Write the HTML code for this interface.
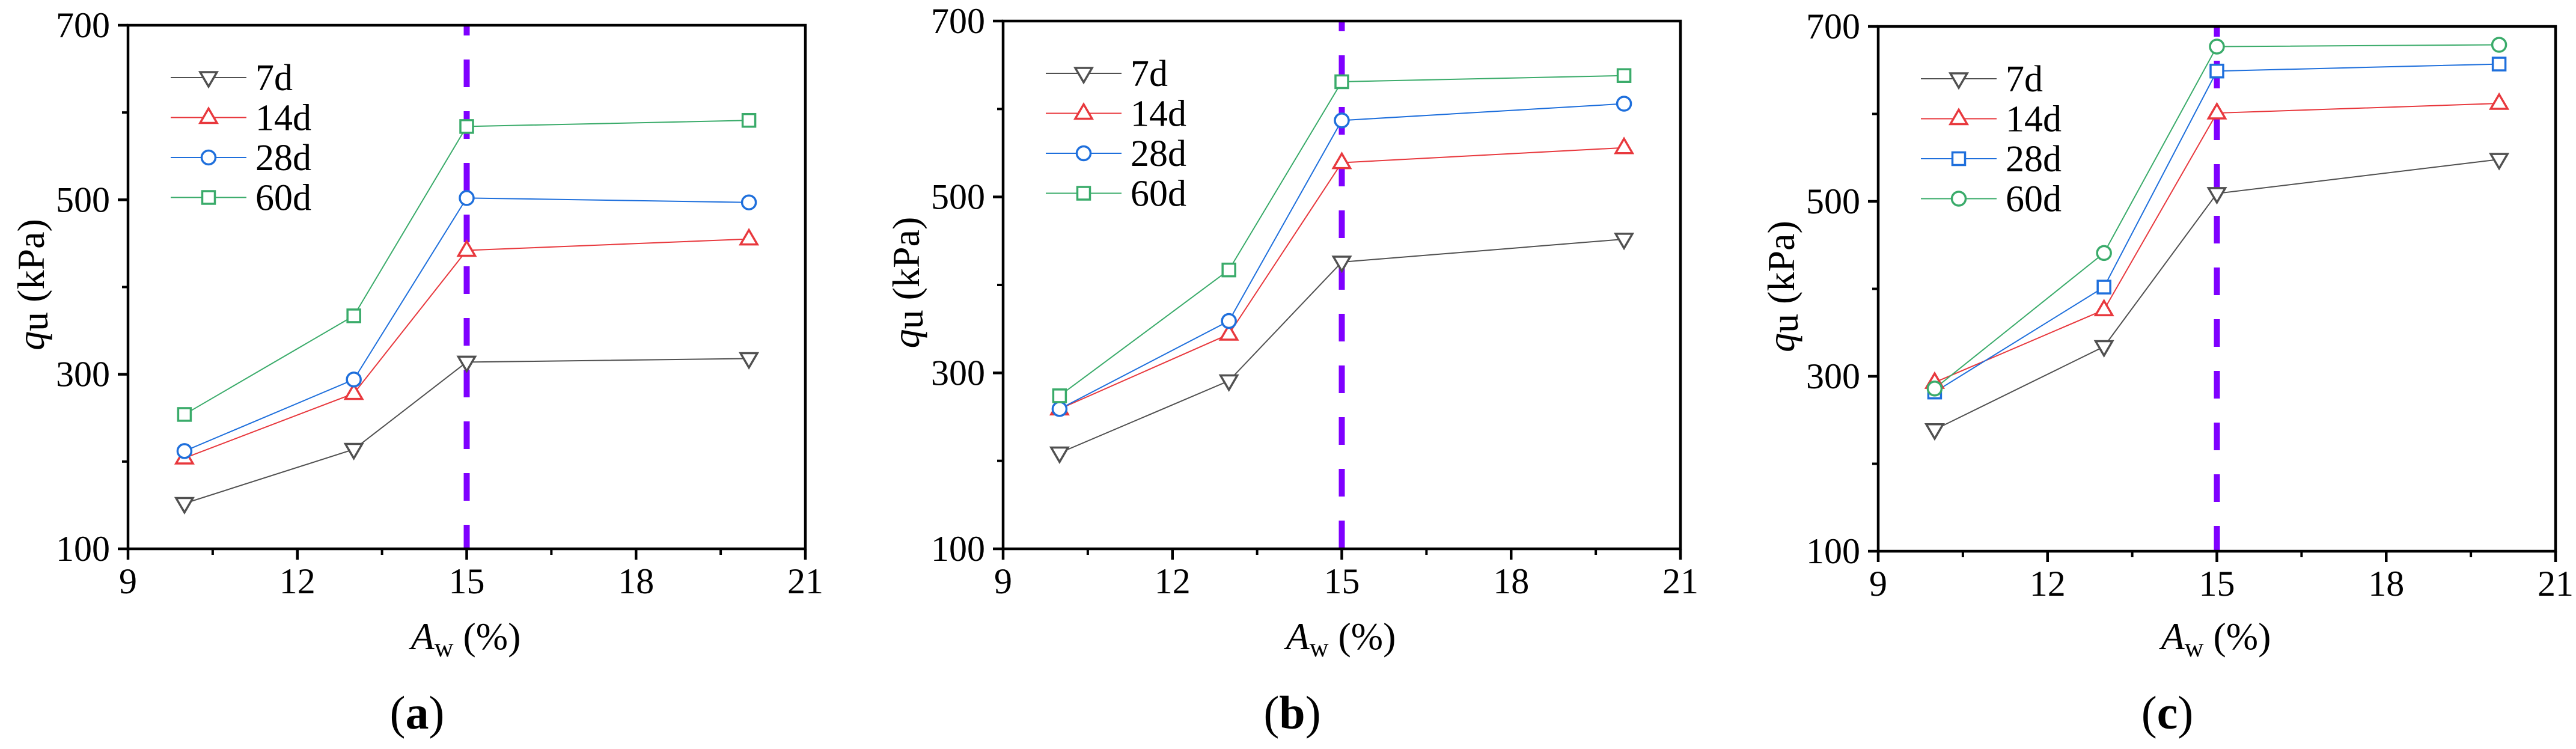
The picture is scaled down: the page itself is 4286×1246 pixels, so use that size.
<!DOCTYPE html>
<html><head><meta charset="utf-8">
<style>
html,body{margin:0;padding:0;background:#fff;}
svg{display:block;}
</style></head>
<body>
<svg id="fig" width="4286" height="1246" viewBox="0 0 4286 1246" xmlns="http://www.w3.org/2000/svg" font-family="'Liberation Serif', 'DejaVu Serif', serif"></svg>
<script>
const xValues = [10, 13, 15, 20];
const seriesNames = ["7d", "14d", "28d", "60d"];
const panelA7 = [152, 214, 314, 318];
const panelA14 = [204, 278, 442, 455];
const panelA28 = [212, 294, 502, 497];
const panelA60 = [254, 367, 584, 591];
const panelB7 = [209, 291, 426, 452];
const panelB14 = [259, 344, 539, 556];
const panelB28 = [259, 359, 587, 606];
const panelB60 = [274, 417, 631, 638];
const panelC7 = [239, 334, 509, 548];
const panelC14 = [293, 376, 601, 612];
const panelC28 = [282, 402, 649, 657];
const panelC60 = [286, 441, 677, 679];
const xTicks = [9, 12, 15, 18, 21];
const xMinor = [10.5, 13.5, 16.5, 19.5];
const yTicks = [100, 300, 500, 700];
const yMinor = [200, 400, 600];
const refLine = 15;
const panelLabels = ["a", "b", "c"];

const NS = "http://www.w3.org/2000/svg";
const svg = document.getElementById("fig");
const FONT = "'Liberation Serif', 'DejaVu Serif', serif";
function mk(tag, attrs, parent) {
  const e = document.createElementNS(NS, tag);
  for (const k in attrs) e.setAttribute(k, attrs[k]);
  if (tag === "text") { e.setAttribute("font-family", FONT); e.style.fontFamily = FONT; }
  (parent || svg).appendChild(e);
  return e;
}
const colors = ["#505050", "#e8383d", "#1e6fdc", "#3aab6a"];
const panels = [
  {L:213, T:42, B:913, data:[panelA7,panelA14,panelA28,panelA60], markers:["down","up","circle","square"]},
  {L:1669, T:35, B:913, data:[panelB7,panelB14,panelB28,panelB60], markers:["down","up","circle","square"]},
  {L:3125, T:44, B:917, data:[panelC7,panelC14,panelC28,panelC60], markers:["down","up","square","circle"]}
];
const W = 1127;

function marker(g, type, x, y, color) {
  let m;
  if (type === "down") m = mk("polygon", {points:`${x-14},${y-9} ${x+14},${y-9} ${x},${y+15}`}, g);
  else if (type === "up") m = mk("polygon", {points:`${x-14},${y+9} ${x+14},${y+9} ${x},${y-15}`}, g);
  else if (type === "circle") m = mk("circle", {cx:x, cy:y, r:11.5}, g);
  else m = mk("rect", {x:x-10.5, y:y-10.5, width:21, height:21}, g);
  m.setAttribute("fill", "#fff");
  m.setAttribute("stroke", color);
  m.setAttribute("stroke-width", "3.5");
  
  
  return m;
}

panels.forEach((p, pi) => {
  const g = mk("g", {});
  
  
  const sx = v => p.L + (v - 9) / 12 * W;
  const sy = v => p.B - (v - 100) / 600 * (p.B - p.T);

  p.data.forEach((vals, si) => {
    const sg = mk("g", {}, g);
    
    
    const pts = vals.map((v, i) => sx(xValues[i]) + "," + sy(v)).join(" ");
    const pl = mk("polyline", {points:pts, fill:"none", stroke:colors[si], "stroke-width":2}, sg);
    
    
  });
  const dl = mk("line", {x1:sx(refLine), x2:sx(refLine), y1:p.T, y2:p.B, stroke:"#7f00ff", "stroke-width":10, "stroke-dasharray":"46 40", "stroke-dashoffset":29}, g);
  
  
  p.data.forEach((vals, si) => {
    vals.forEach((v, i) => marker(g, p.markers[si], sx(xValues[i]), sy(v), colors[si]));
  });
  const fr = mk("rect", {x:p.L, y:p.T, width:W, height:p.B-p.T, fill:"none", stroke:"#000", "stroke-width":4.5}, g);
  
  
  xTicks.forEach(t => {
    mk("line", {x1:sx(t), x2:sx(t), y1:p.B, y2:p.B+18, stroke:"#000", "stroke-width":4.5}, g);
    const tx = mk("text", {x:sx(t), y:p.B+74, "font-size":60, "text-anchor":"middle"}, g);
    tx.textContent = t;
    
    
  });
  xMinor.forEach(t => mk("line", {x1:sx(t), x2:sx(t), y1:p.B, y2:p.B+10, stroke:"#000", "stroke-width":4}, g));
  yTicks.forEach(t => {
    mk("line", {x1:p.L-17, x2:p.L, y1:sy(t), y2:sy(t), stroke:"#000", "stroke-width":4.5}, g);
    const ty = mk("text", {x:p.L-30, y:sy(t)+20, "font-size":60, "text-anchor":"end"}, g);
    ty.textContent = t;
    
    
  });
  yMinor.forEach(t => mk("line", {x1:p.L-10, x2:p.L, y1:sy(t), y2:sy(t), stroke:"#000", "stroke-width":4}, g));
  const yt = mk("text", {transform:`translate(${p.L-140},${(p.T+p.B)/2 - 4}) rotate(-90)`, "font-size":64, "text-anchor":"middle"}, g);
  yt.innerHTML = '<tspan font-style="italic">q</tspan><tspan dy="6">u</tspan><tspan dy="-6"> (kPa)</tspan>';
  
  
  const xt = mk("text", {x:p.L+562, y:1080, "font-size":64, "text-anchor":"middle"}, g);
  xt.innerHTML = '<tspan font-style="italic">A</tspan><tspan font-size="44" dy="12">w</tspan><tspan dy="-12"> (%)</tspan>';
  
  
  const pl = mk("text", {x:p.L+481, y:1212, "font-size":78, "text-anchor":"middle"}, g);
  pl.innerHTML = '(<tspan font-weight="bold">' + panelLabels[pi] + '</tspan>)';
  
  
  const lg = mk("g", {}, g);
  
  
  seriesNames.forEach((n, si) => {
    const ly = p.T + 87 + si * 66.5;
    const le = mk("g", {}, lg);
    
    
    mk("line", {x1:p.L+71, x2:p.L+197, y1:ly, y2:ly, stroke:colors[si], "stroke-width":2}, le);
    marker(le, p.markers[si], p.L+134, ly, colors[si]);
    const t = mk("text", {x:p.L+212, y:ly+21, "font-size":62}, le);
    t.textContent = n;
  });
});
</script>
</body></html>
